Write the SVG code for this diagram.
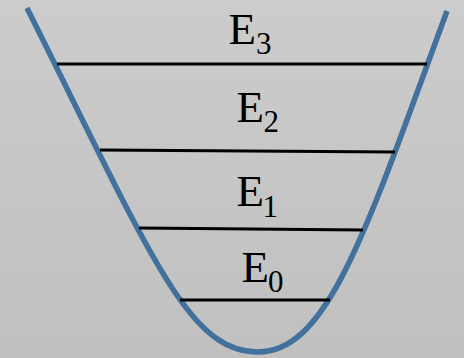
<svg xmlns="http://www.w3.org/2000/svg" width="464" height="358" viewBox="0 0 464 358">
<defs>
<linearGradient id="bg" x1="0" y1="0" x2="0" y2="1">
<stop offset="0" stop-color="#cccccc"/>
<stop offset="1" stop-color="#c0c0c0"/>
</linearGradient>
</defs>
<style>
.lvl{stroke:#000;stroke-width:3;fill:none}
.well{stroke:#41719c;stroke-width:5.5;fill:none}
.lab{font-family:"Liberation Serif","Times New Roman",serif;font-size:45px;fill:#000}
.sub{font-family:"Liberation Serif","Times New Roman",serif;font-size:31px;fill:#000}
</style>
<rect width="464" height="358" fill="url(#bg)"/>
<g id="connectors">
<path class="well" d="M27,8 C152,258 188,352 258,352 C328,352 366,231 447,11"/>
<line class="lvl" x1="57" y1="64" x2="427" y2="64"/>
<line class="lvl" x1="100" y1="150" x2="395" y2="152"/>
<line class="lvl" x1="139" y1="228" x2="363" y2="230"/>
<line class="lvl" x1="180" y1="300" x2="330" y2="300"/>
</g>
<g id="E3"><text class="lab" x="228.5" y="44">E</text><text class="sub" x="256" y="54">3</text></g>
<g id="E2"><text class="lab" x="236.5" y="122">E</text><text class="sub" x="263.5" y="132">2</text></g>
<g id="E1"><text class="lab" x="236.5" y="206">E</text><text class="sub" x="262.5" y="216.5">1</text></g>
<g id="E0"><text class="lab" x="241.5" y="282">E</text><text class="sub" x="268" y="291.5">0</text></g>
</svg>
